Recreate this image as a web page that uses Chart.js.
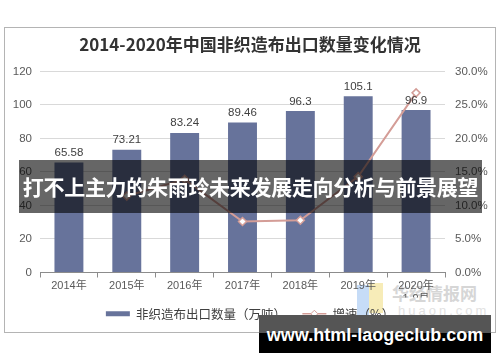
<!DOCTYPE html>
<html>
<head>
<meta charset="utf-8">
<script src="https://cdn.jsdelivr.net/npm/chart.js@4/dist/chart.umd.min.js"></script>
<style>
  body { margin: 0; width: 500px; height: 362px; background: #fff; position: relative; overflow: hidden; }
  #frame { position: absolute; left: 4px; top: 27px; width: 492px; height: 306px; box-sizing: border-box; border: 1px solid #b4b4b4; }
  #chart { display: block; }
  #banner { position: absolute; left: 19px; top: 160px; width: 463px; height: 53px; background: rgba(0,0,0,0.6);
    color: #fff; font: bold 21px "Noto Sans CJK SC", sans-serif; line-height: 53px; text-align: center; letter-spacing: -0.3px; white-space: nowrap; }
  #mark { position: absolute; left: 259px; top: 315px; width: 232px; height: 38px;
    background: linear-gradient(#555 0, #555 47%, #000 47%, #000 100%);
    color: #fff; font: bold 18px "Liberation Sans", sans-serif; line-height: 40px; text-align: center; white-space: nowrap; }
  #huaon { position: absolute; left: 392px; top: 283px; color: #d6d6d6; font: bold 17px "Noto Sans CJK SC", sans-serif; line-height: 20px; }
  #huaon2 { position: absolute; left: 398px; top: 303px; color: #e2e2e2; font: 13px "Liberation Sans", sans-serif; letter-spacing: 3px; }
  #logo1 { position: absolute; left: 357px; top: 285px; width: 12px; height: 30px; background: #c6dcf7; }
  #logo2 { position: absolute; left: 369px; top: 283px; width: 14px; height: 30px; background: #f7ecb8; }
</style>
</head>
<body>
<div id="logo1"></div><div id="logo2"></div>
<div id="huaon">华经情报网</div>
<div id="huaon2">huaon.com</div>
<div id="frame"><canvas id="chart" width="490" height="304"></canvas></div>
<div id="banner">打不上主力的朱雨玲未来发展走向分析与前景展望</div>
<div id="mark">www.html-laogeclub.com</div>
<script>
const years = ['2014年', '2015年', '2016年', '2017年', '2018年', '2019年', ['2020年', '1-9月']];
const exportVolume = [65.58, 73.21, 83.24, 89.46, 96.3, 105.1, 96.9]; // 万吨
const growthRate = [null, 11.4, 13.9, 7.6, 7.8, 14.3, 26.8]; // %

const BAR_COLOR = '#67739b';
const LINE_COLOR = '#d49d97';
const TICK_COLOR = '#595959';

Chart.defaults.font.family = '"Liberation Sans", "Noto Sans CJK SC", sans-serif';

// 柱子上方的数值
const barLabels = {
  id: 'barLabels',
  afterDatasetsDraw(chart) {
    const ctx = chart.ctx;
    const meta = chart.getDatasetMeta(0);
    ctx.save();
    ctx.font = '11.5px "Liberation Sans", sans-serif';
    ctx.fillStyle = '#404040';
    ctx.textAlign = 'center';
    ctx.textBaseline = 'bottom';
    meta.data.forEach((bar, i) => {
      ctx.fillText(String(exportVolume[i]), bar.x, bar.y - 4);
    });
    ctx.restore();
  }
};

// 图例里折线中间的菱形标记
const legendMarker = {
  id: 'legendMarker',
  afterDraw(chart) {
    const box = chart.legend.legendHitBoxes[1];
    if (!box) return;
    const ctx = chart.ctx;
    const cx = box.left + 12, cy = box.top + box.height / 2, r = 3.5;
    ctx.save();
    ctx.beginPath();
    ctx.moveTo(cx, cy - r);
    ctx.lineTo(cx + r, cy);
    ctx.lineTo(cx, cy + r);
    ctx.lineTo(cx - r, cy);
    ctx.closePath();
    ctx.fillStyle = '#fff';
    ctx.fill();
    ctx.lineWidth = 1;
    ctx.strokeStyle = LINE_COLOR;
    ctx.stroke();
    ctx.restore();
  }
};

new Chart(document.getElementById('chart').getContext('2d'), {
  type: 'bar',
  data: {
    labels: years,
    datasets: [
      {
        type: 'bar',
        label: '非织造布出口数量（万吨）',
        data: exportVolume,
        backgroundColor: BAR_COLOR,
        yAxisID: 'y',
        categoryPercentage: 1,
        barPercentage: 0.5,
        order: 1
      },
      {
        type: 'line',
        label: '增速（%）',
        data: growthRate,
        borderColor: LINE_COLOR,
        borderWidth: 2,
        pointStyle: 'rectRot',
        pointRadius: 4,
        pointBackgroundColor: '#fff',
        pointBorderColor: LINE_COLOR,
        pointBorderWidth: 1.5,
        yAxisID: 'y1',
        tension: 0,
        order: 0
      }
    ]
  },
  options: {
    responsive: false,
    animation: false,
    layout: { padding: { left: 0, right: 0, top: 0, bottom: 2 } },
    plugins: {
      title: {
        display: true,
        text: '2014-2020年中国非织造布出口数量变化情况',
        color: '#333',
        font: { size: 17, weight: 'bold', family: '"Noto Sans CJK SC", sans-serif' },
        padding: { top: 6, bottom: 17 }
      },
      legend: {
        position: 'bottom',
        labels: {
          color: '#404040',
          font: { size: 12.5, family: '"Noto Sans CJK SC", sans-serif' },
          usePointStyle: true,
          pointStyleWidth: 24,
          padding: 10,
          generateLabels: () => [
            { text: '非织造布出口数量（万吨）　', pointStyle: 'line', strokeStyle: BAR_COLOR, fillStyle: BAR_COLOR, lineWidth: 5, datasetIndex: 0, fontColor: '#404040' },
            { text: '增速（%）', pointStyle: 'line', strokeStyle: LINE_COLOR, fillStyle: LINE_COLOR, lineWidth: 1.5, datasetIndex: 1, fontColor: '#404040' }
          ]
        }
      },
      tooltip: { enabled: false }
    },
    scales: {
      x: {
        offset: true,
        grid: { display: true, drawOnChartArea: false, offset: true, tickLength: 5, color: '#8c8c8c' },
        border: { color: '#8c8c8c' },
        ticks: { color: TICK_COLOR, font: { size: 11 }, padding: 2, maxRotation: 0 },
        afterFit: scale => { scale.height = 25; }
      },
      y: {
        position: 'left',
        min: 0,
        max: 120,
        ticks: { stepSize: 20, color: TICK_COLOR, font: { size: 11.5 }, padding: 8 },
        grid: { color: '#d9d9d9', drawTicks: false },
        border: { display: false },
        afterFit: scale => { scale.width = 35; }
      },
      y1: {
        position: 'right',
        min: 0,
        max: 30,
        ticks: { stepSize: 5, color: TICK_COLOR, font: { size: 11.5 }, padding: 10, callback: v => v.toFixed(1) + '%' },
        grid: { drawOnChartArea: false, drawTicks: false },
        border: { display: false },
        afterFit: scale => { scale.width = 50; }
      }
    }
  },
  plugins: [barLabels, legendMarker]
});
</script>
</body>
</html>
